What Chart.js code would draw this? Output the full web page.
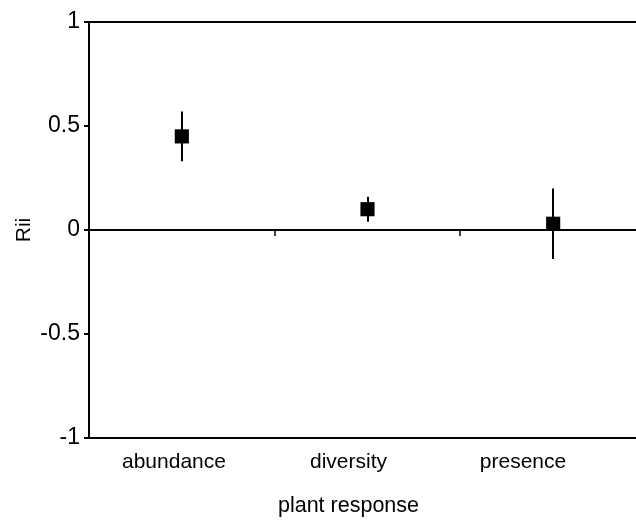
<!DOCTYPE html>
<html>
<head>
<meta charset="utf-8">
<script src="https://cdn.jsdelivr.net/npm/chart.js@4"></script>
<style>
  html, body { margin: 0; padding: 0; overflow: hidden; background: #fff; }
  /* a bit wider than the window: the original plot runs past the right edge */
  #wrap { width: 646px; height: 521px; }
</style>
</head>
<body>
<div id="wrap"><canvas id="rii"></canvas></div>
<script>
const responses = ["abundance", "diversity", "presence"];
const riiMean = [0.45, 0.10, 0.03];
const riiLow = [0.33, 0.04, -0.14];
const riiHigh = [0.57, 0.16, 0.20];
const yTicks = [-1, -0.5, 0, 0.5, 1];
const xTitle = "plant response";

const FONT = "'Liberation Sans', Arial, Helvetica, sans-serif";

// error bars, little ticks hanging off the zero line, and the x axis title
const errorBars = {
  id: "errorBars",
  beforeDatasetsDraw(chart) {
    const ctx = chart.ctx;
    const x = chart.scales.x, y = chart.scales.y;
    ctx.save();
    ctx.strokeStyle = "#000";
    ctx.lineWidth = 2;
    riiMean.forEach((m, i) => {
      const px = Math.round(x.getPixelForValue(i));
      ctx.beginPath();
      ctx.moveTo(px, y.getPixelForValue(riiLow[i]));
      ctx.lineTo(px, y.getPixelForValue(riiHigh[i]));
      ctx.stroke();
    });
    const zy = y.getPixelForValue(0);
    ctx.lineWidth = 1.5;
    for (let i = 0; i < responses.length - 1; i++) {
      const bx = Math.round((x.getPixelForValue(i) + x.getPixelForValue(i + 1)) / 2);
      ctx.beginPath();
      ctx.moveTo(bx, zy);
      ctx.lineTo(bx, zy + 6);
      ctx.stroke();
    }
    ctx.restore();
  },
  afterDraw(chart) {
    // title sits under the middle category label, like in the original
    const xl = chart.scales.xl;
    const ctx = chart.ctx;
    ctx.save();
    ctx.fillStyle = "#000";
    ctx.font = "21.5px " + FONT;
    ctx.textAlign = "center";
    ctx.textBaseline = "middle";
    ctx.fillText(xTitle, xl.getPixelForValue(1), xl.bottom - 15);
    ctx.restore();
  }
};

new Chart(document.getElementById("rii"), {
  type: "line",
  data: {
    labels: responses,
    datasets: [{
      data: riiMean,
      showLine: false,
      pointStyle: "rect",
      pointRadius: 10,
      pointHoverRadius: 10,
      pointBackgroundColor: "#000",
      pointBorderColor: "#000",
      pointBorderWidth: 0
    }]
  },
  options: {
    responsive: true,
    maintainAspectRatio: false,
    animation: false,
    layout: { autoPadding: false, padding: { top: 22, right: 0, bottom: 0, left: 0 } },
    plugins: { legend: { display: false }, tooltip: { enabled: false } },
    scales: {
      x: { type: "category", offset: true, display: false },
      // the category names in the original sit on a slightly tighter spacing than the points
      xl: {
        type: "linear",
        position: "bottom",
        min: -0.487,
        max: 2.705,
        afterBuildTicks: s => { s.ticks = responses.map((r, i) => ({ value: i })); },
        afterFit: s => { s.height = 83; },
        grid: { display: true, drawOnChartArea: false, drawTicks: false },
        border: { color: "#000", width: 2 },
        ticks: {
          color: "#000", font: { family: FONT, size: 21 }, padding: 12, maxRotation: 0,
          callback: v => responses[v]
        }
      },
      y: {
        min: -1,
        max: 1,
        afterBuildTicks: s => { s.ticks = yTicks.map(v => ({ value: v })); },
        afterFit: s => { s.width = 89; },
        grid: {
          color: c => (c.tick && (c.tick.value === 0 || c.tick.value === 1)) ? "#000" : "rgba(0,0,0,0)",
          tickColor: "#000",
          tickLength: 5,
          lineWidth: 2,
          tickWidth: 2
        },
        border: { color: "#000", width: 2 },
        ticks: { color: "#000", font: { family: FONT, size: 23 }, padding: 4, callback: v => String(v) },
        title: {
          display: true, text: "Rii", color: "#000",
          font: { family: FONT, size: 21 }, padding: { top: 12, bottom: 4 }
        }
      }
    }
  },
  plugins: [errorBars]
});
</script>
</body>
</html>
